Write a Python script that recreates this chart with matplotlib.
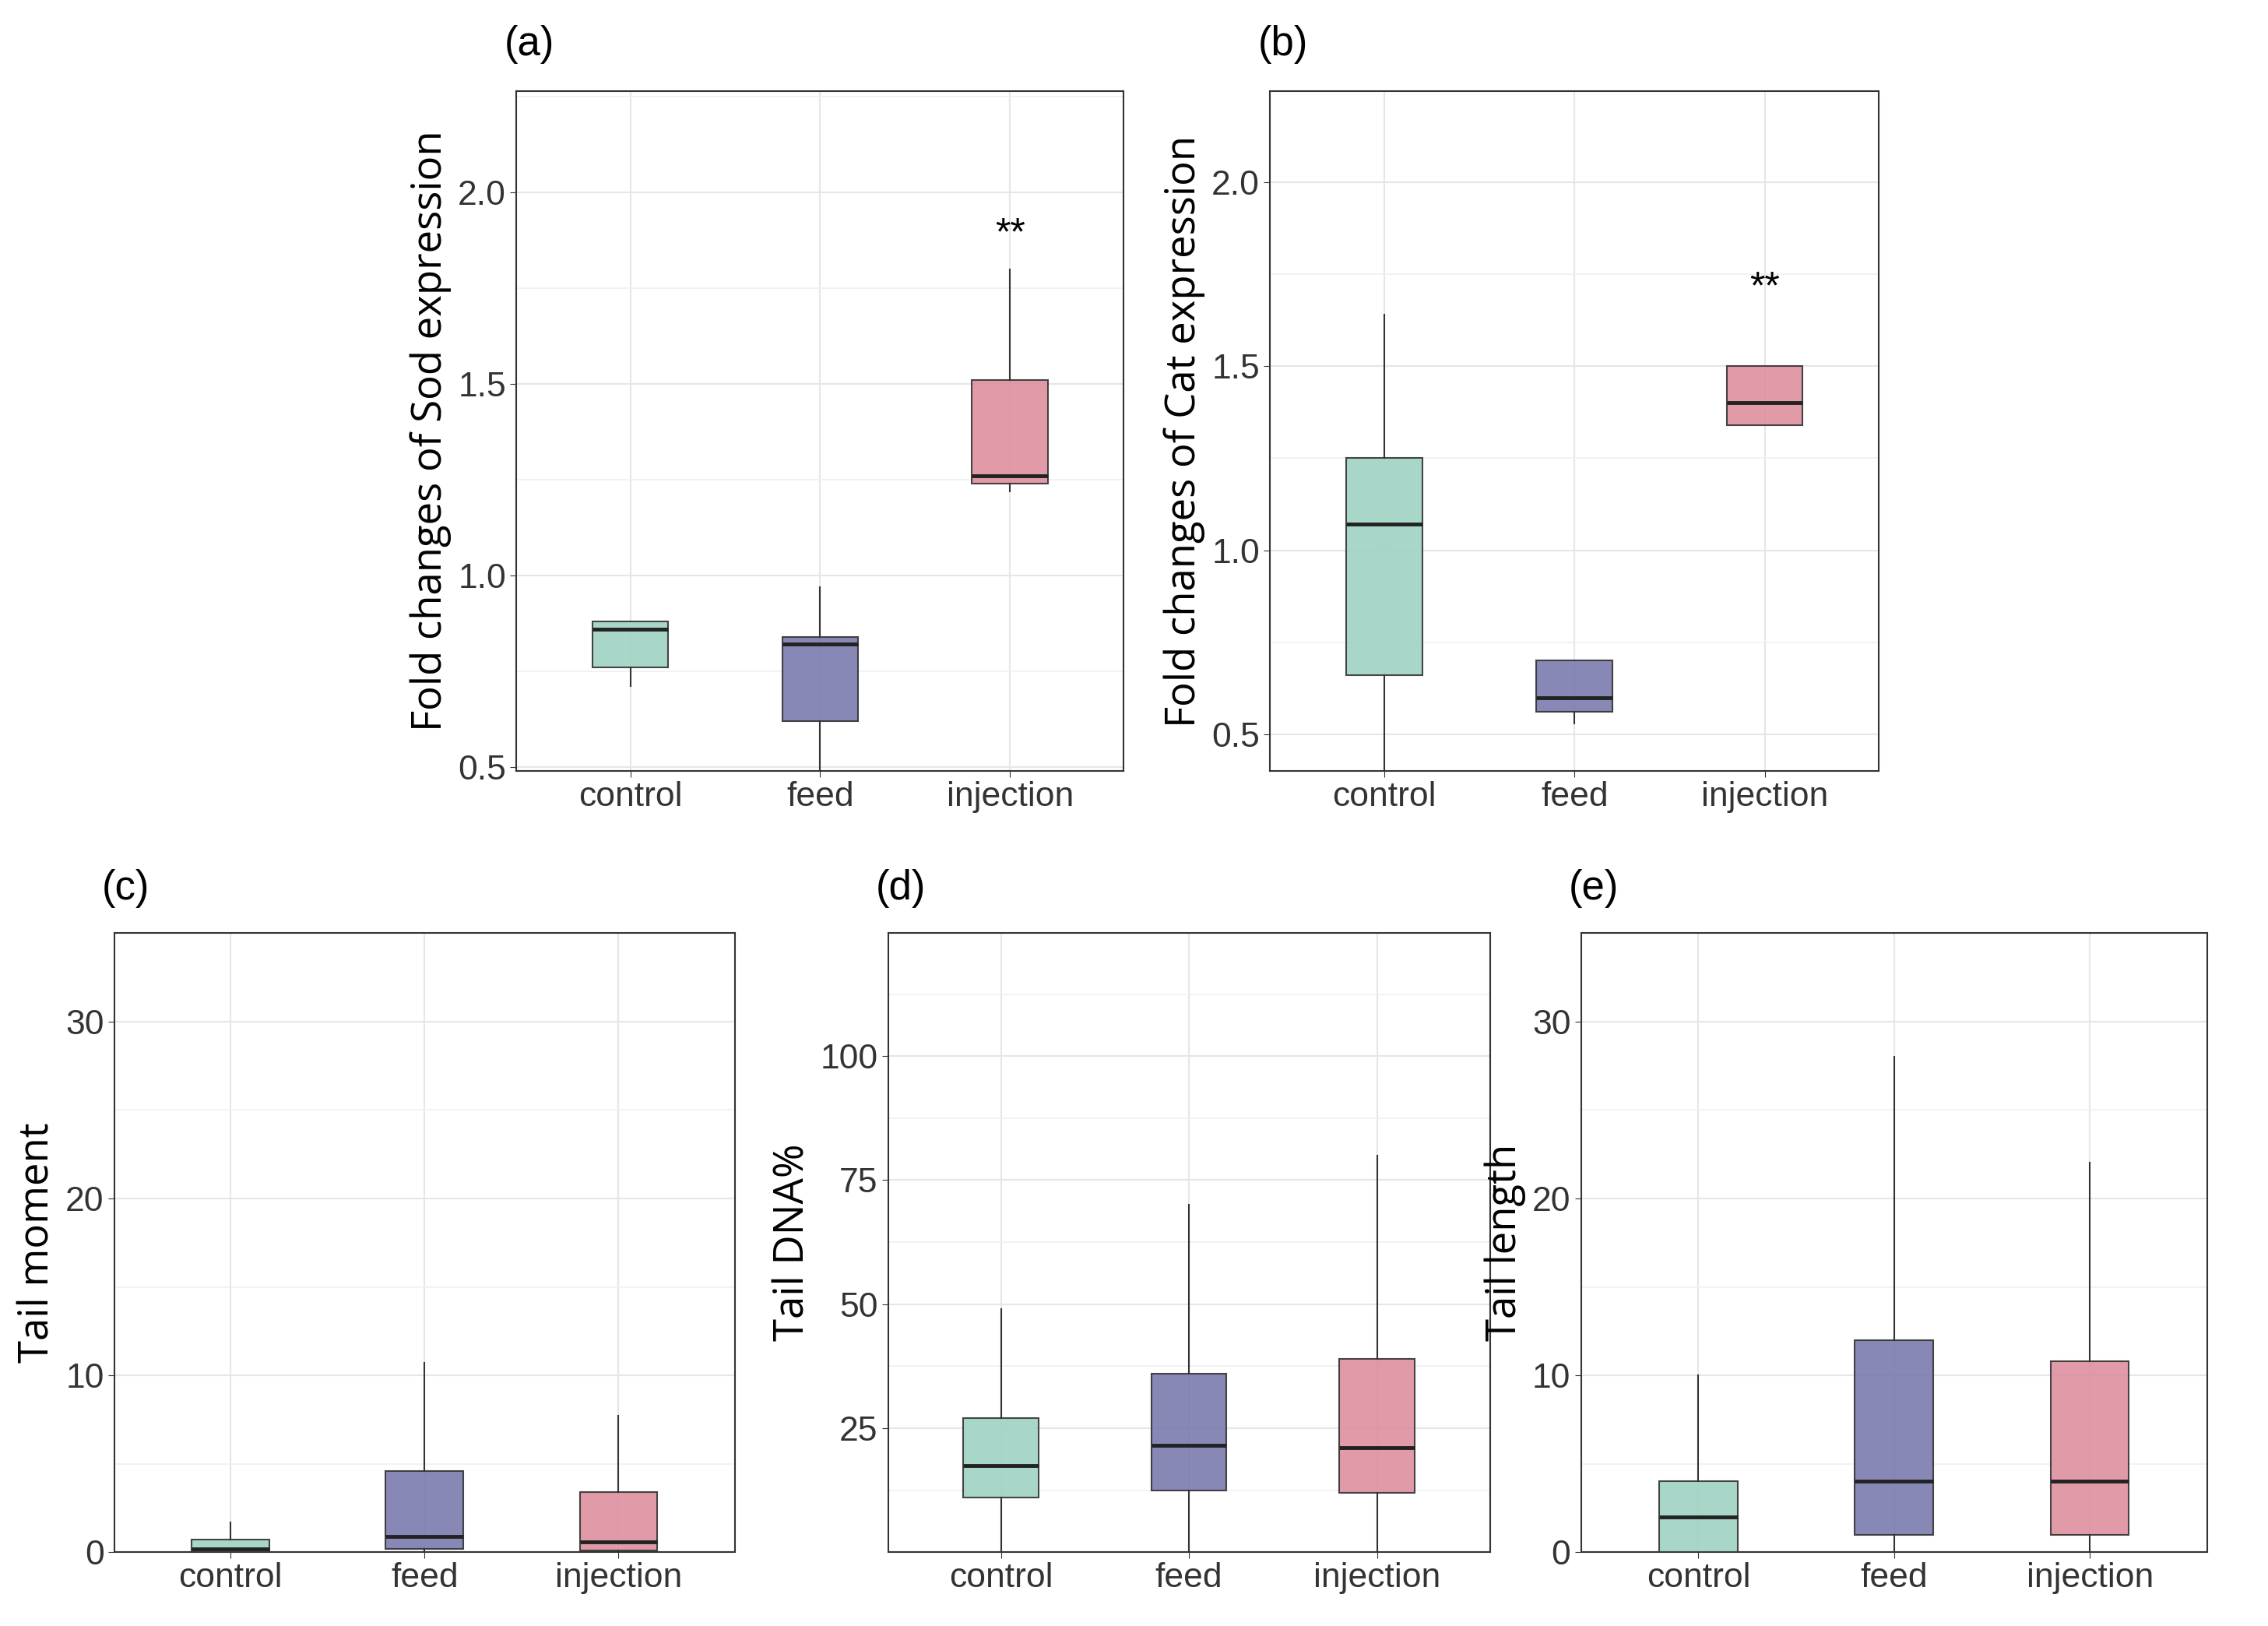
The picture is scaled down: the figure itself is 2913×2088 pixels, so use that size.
import matplotlib.pyplot as plt
from matplotlib.ticker import MultipleLocator, FixedLocator

plt.rcParams['font.family'] = ['Liberation Sans', 'DejaVu Sans']

groups = ["control", "feed", "injection"]
colors = ["#9fd3c3", "#7b7bb0", "#de8f9f"]

# whislo, q1, med, q3, whishi
sod = [[0.71, 0.76, 0.86, 0.88, 0.88], [0.48, 0.62, 0.82, 0.84, 0.97], [1.22, 1.24, 1.26, 1.51, 1.80]]
cat = [[0.38, 0.66, 1.07, 1.25, 1.64], [0.53, 0.56, 0.60, 0.70, 0.70], [1.34, 1.34, 1.40, 1.50, 1.50]]
tail_moment = [[0, 0, 0.2, 0.7, 1.7], [0, 0.2, 0.9, 4.6, 10.7], [0, 0.1, 0.6, 3.4, 7.7]]
tail_dna = [[0, 11, 17.5, 27, 49], [0, 12.5, 21.5, 36, 70], [0, 12, 21, 39, 80]]
tail_length = [[0, 0, 2, 4, 10], [0, 1, 4, 12, 28], [0, 1, 4, 10.8, 22]]

W, H = 1568, 1124
fig = plt.figure(figsize=(29.13, 20.88), dpi=100)

def ax_at(x0, y0, x1, y1):
    return fig.add_axes([x0 / W, 1 - y1 / H, (x1 - x0) / W, (y1 - y0) / H])

def panel(ax, data, ylim, major, minor, ylabel, tag, ticks=None, stars=None):
    stats = [dict(whislo=d[0], q1=d[1], med=d[2], q3=d[3], whishi=d[4], fliers=[]) for d in data]
    bp = ax.bxp(stats, positions=range(3), widths=0.4, patch_artist=True, showcaps=False,
                boxprops=dict(linewidth=1.5, edgecolor="#333333"),
                whiskerprops=dict(linewidth=1.5, color="#333333"),
                medianprops=dict(linewidth=3.5, color="#222222"), zorder=3)
    for p, c in zip(bp["boxes"], colors):
        p.set_facecolor(c)
        p.set_alpha(0.9)
    ax.set_xlim(-0.6, 2.6)
    ax.set_ylim(*ylim)
    if ticks is not None:
        ax.yaxis.set_major_locator(FixedLocator(ticks))
    else:
        ax.yaxis.set_major_locator(MultipleLocator(major))
    ax.yaxis.set_minor_locator(MultipleLocator(minor))
    ax.set_xticks(range(3))
    ax.set_xticklabels(groups)
    ax.grid(True, which="major", color="#e6e6e6", linewidth=1.5, zorder=0)
    ax.grid(True, which="minor", axis="y", color="#f0f0f0", linewidth=1.2, zorder=0)
    ax.set_axisbelow(True)
    ax.tick_params(labelsize=32, length=6, colors="#333333")
    ax.tick_params(which="minor", length=0)
    for s in ax.spines.values():
        s.set_linewidth(1.5)
        s.set_color("#333333")
    ax.set_ylabel(ylabel, fontsize=38, family=["Open Sans", "DejaVu Sans"], labelpad=6)
    ax.text(-0.02, 1.04, tag, transform=ax.transAxes, fontsize=38, ha="left", va="bottom")
    if stars:
        ax.text(stars[0], stars[1], "**", fontsize=36, ha="center", va="center")

a = ax_at(357, 63, 777, 533)
panel(a, sod, (0.489, 2.265), 0.5, 0.25, "Fold changes of Sod expression", "(a)", stars=(2, 1.89))
b = ax_at(878, 63, 1299, 533)
panel(b, cat, (0.40, 2.247), 0.5, 0.25, "Fold changes of Cat expression", "(b)", stars=(2, 1.71))
c = ax_at(79, 645, 508, 1073)
panel(c, tail_moment, (0, 35), 10, 5, "Tail moment", "(c)")
d = ax_at(614, 645, 1030, 1073)
panel(d, tail_dna, (0, 124.8), 25, 12.5, "Tail DNA%", "(d)", ticks=[25, 50, 75, 100])
e = ax_at(1093, 645, 1526, 1073)
panel(e, tail_length, (0, 35), 10, 5, "Tail length", "(e)")

fig.savefig("out.png", dpi=100, facecolor="white")
